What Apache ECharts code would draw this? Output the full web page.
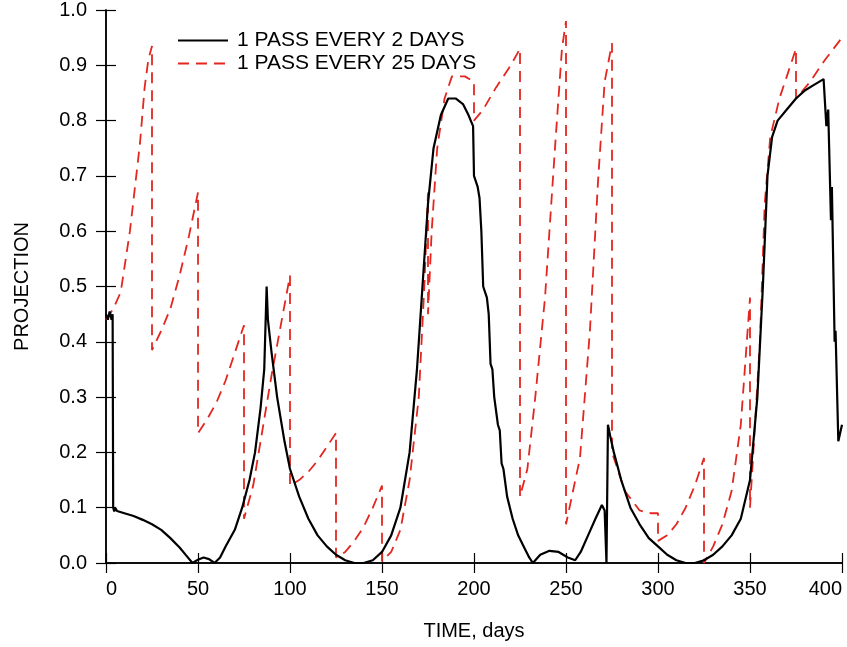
<!DOCTYPE html>
<html>
<head>
<meta charset="utf-8">
<script src="https://cdn.jsdelivr.net/npm/echarts@6/dist/echarts.min.js"></script>
<style>html,body{margin:0;padding:0;background:#fff;}#c{width:847px;height:647px;}</style>
</head>
<body>
<div id="c"></div>
<script>
var seriesNames = ['1 PASS EVERY 2 DAYS', '1 PASS EVERY 25 DAYS'];
var xTicks = [0, 50, 100, 150, 200, 250, 300, 350, 400];
var yTicks = [0.0, 0.1, 0.2, 0.3, 0.4, 0.5, 0.6, 0.7, 0.8, 0.9, 1.0];

// 1 pass every 2 days: [time (days), projection]
var every2Days = [
  [0,0.45],[1,0.44],[2,0.455],[3,0.44],[3.6,0.45],[3.9,0.1],[4.5,0.093],[5,0.1],[6,0.094],[10,0.09],[15,0.085],[20,0.078],
  [25,0.07],[30,0.06],[35,0.045],[40,0.028],[44,0.012],[47,0.0],[50,0.006],[53,0.01],[56,0.007],[59,0.0],
  [62,0.01],[65,0.03],[70,0.06],[74,0.1],[78,0.15],[81,0.2],[84,0.28],[86,0.35],[87.3,0.5],[88,0.44],
  [89,0.41],[90,0.38],[93,0.3],[97,0.22],[100,0.17],[105,0.12],[110,0.08],[115,0.05],[120,0.03],[125,0.015],[130,0.005],
  [135,0.0],[140,0.0],[145,0.005],[150,0.02],[155,0.05],[160,0.1],[165,0.2],[169,0.35],[172,0.5],[175,0.65],
  [178,0.75],[182,0.81],[186,0.84],[190,0.84],[194,0.83],[197,0.81],[199.5,0.79],[200,0.7],[202,0.68],[203,0.66],[204,0.6],
  [205,0.5],[207,0.48],[208,0.45],[209,0.36],[210,0.35],[211,0.3],[212,0.3],[213,0.25],[214,0.24],[215,0.18],[216,0.17],[218,0.12],[221,0.08],[224,0.05],
  [227,0.03],[230,0.01],[232,0.0],[236,0.015],[241,0.022],[246,0.02],[251,0.01],[255,0.005],[258,0.02],[262,0.05],
  [266,0.08],[269.5,0.105],[271,0.095],[272,0.0],[272.8,0.25],[274,0.23],[276,0.2],[280,0.15],[285,0.1],[290,0.07],
  [295,0.045],[300,0.03],[305,0.015],[310,0.005],[315,0.0],[320,0.0],[325,0.005],[330,0.015],[335,0.03],[340,0.05],
  [345,0.08],[350,0.15],[354,0.3],[357,0.5],[359.5,0.7],[362,0.77],[365,0.8],[370,0.82],[375,0.84],[380,0.855],
  [385,0.865],[390,0.875],[391.5,0.79],[392.5,0.82],[394,0.62],[394.5,0.68],[396,0.4],[396.5,0.42],[398,0.22],[400,0.25]
];

// 1 pass every 25 days: [time (days), projection]
var every25Days = [
  [0,0.44],[4,0.46],[8,0.49],[13,0.6],[18.5,0.76],[21,0.86],[23,0.91],[25,0.935],
  [25,0.385],[30,0.42],[35,0.46],[40,0.52],[45,0.59],[50,0.67],
  [50,0.235],[55,0.26],[60,0.29],[65,0.33],[70,0.38],[75,0.43],
  [75,0.08],[80,0.14],[85,0.24],[90,0.34],[95,0.43],[100,0.52],
  [100,0.14],[105,0.15],[110,0.165],[115,0.185],[120,0.21],[125,0.235],
  [125,0.01],[130,0.02],[135,0.04],[140,0.065],[145,0.1],[150,0.14],
  [150,0.003],[155,0.02],[160,0.06],[165,0.15],[170,0.3],[173,0.5],[175,0.67],
  [175,0.45],[177,0.6],[180,0.75],[184,0.84],[188,0.88],[195,0.88],[200,0.87],
  [200,0.8],[205,0.82],[212,0.86],[220,0.9],[225,0.93],
  [225,0.12],[229,0.17],[233,0.29],[238.6,0.48],[244,0.75],[247.8,0.93],[250,0.98],
  [250,0.07],[257.6,0.19],[263,0.42],[267.4,0.69],[271,0.87],[275,0.94],
  [275,0.2],[282,0.13],[290,0.095],[296,0.09],[300,0.09],
  [300,0.04],[305,0.05],[310,0.07],[315,0.1],[320,0.14],[325,0.19],
  [325,0.0],[330,0.03],[335,0.07],[340,0.13],[345,0.25],[350,0.48],
  [350,0.1],[355.4,0.4],[358,0.65],[361,0.77],[366,0.84],[370,0.88],[375,0.93],
  [375,0.84],[382.6,0.87],[390.8,0.91],[400,0.95]
];

var FONT = 'Liberation Sans, Arial, sans-serif';
var chart = echarts.init(document.getElementById('c'), null, {renderer: 'canvas'});
var axisCommon = {
  axisLine: {show: true, lineStyle: {color: '#000', width: 1.5}},
  axisTick: {show: true, inside: true, length: 10, lineStyle: {color: '#000', width: 1.2}},
  splitLine: {show: false}
};
chart.setOption({
  animation: false,
  backgroundColor: '#fff',
  textStyle: {fontFamily: FONT},
  grid: {left: 106, right: 5, top: 9, bottom: 84, containLabel: false},
  legend: {
    orient: 'vertical', left: 172, top: 25, itemWidth: 50, itemHeight: 14, itemGap: 2,
    itemStyle: {color: 'rgba(0,0,0,0)', borderColor: 'rgba(0,0,0,0)', borderWidth: 0, opacity: 0},
    textStyle: {fontFamily: FONT, fontSize: 21, color: '#000', padding: [0, 0, 0, 4]},
    data: seriesNames
  },
  xAxis: [
    Object.assign({type: 'value', min: xTicks[0], max: xTicks[xTicks.length - 1], interval: 50,
      name: 'TIME, days', nameLocation: 'middle', nameGap: 58,
      nameTextStyle: {fontFamily: FONT, fontSize: 20, color: '#000'},
      axisLabel: {fontFamily: FONT, fontSize: 20, color: '#000', margin: 16, alignMinLabel: 'left', alignMaxLabel: 'right'}
    }, axisCommon),
    Object.assign({type: 'value', position: 'top', min: xTicks[0], max: xTicks[xTicks.length - 1], interval: 50,
      axisLabel: {show: false}}, axisCommon)
  ],
  yAxis: [
    Object.assign({type: 'value', min: yTicks[0], max: yTicks[yTicks.length - 1], interval: 0.1,
      name: 'PROJECTION', nameLocation: 'middle', nameGap: 74, nameRotate: 90,
      nameTextStyle: {fontFamily: FONT, fontSize: 20, color: '#000'},
      axisLabel: {fontFamily: FONT, fontSize: 20, color: '#000', margin: 19,
        formatter: function (v) { return v.toFixed(1); }}
    }, axisCommon),
    Object.assign({type: 'value', position: 'right', min: yTicks[0], max: yTicks[yTicks.length - 1], interval: 0.1,
      axisLabel: {show: false}}, axisCommon)
  ],
  series: [
    {name: seriesNames[0], type: 'line', data: every2Days, symbol: 'none', showSymbol: false,
      lineStyle: {color: '#000', width: 2.2}, itemStyle: {color: '#000'}, z: 3},
    {name: seriesNames[1], type: 'line', data: every25Days, symbol: 'none', showSymbol: false,
      lineStyle: {color: '#e3261f', width: 1.8, type: [11, 7]}, itemStyle: {color: '#e3261f'}, z: 2}
  ]
});
</script>
</body>
</html>
